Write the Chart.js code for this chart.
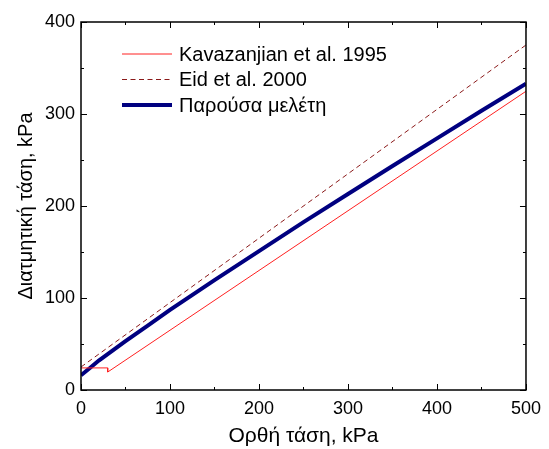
<!DOCTYPE html>
<html>
<head>
<meta charset="utf-8">
<script src="https://cdn.jsdelivr.net/npm/chart.js@4/dist/chart.umd.min.js"></script>
<style>
  html, body { margin: 0; padding: 0; background: #fff; }
  #wrap { width: 549px; height: 449px; }
</style>
</head>
<body>
<div id="wrap"><canvas id="shearChart"></canvas></div>
<script>
// normal stress (kPa) / shear stress (kPa)
const kavazanjianX = [0, 30, 30, 500];
const kavazanjianY = [24, 24, 19.5, 324.7];

const eidX = [0, 500];
const eidY = [25, 375];

const presentX = [0, 10, 20, 30, 50, 75, 100, 150, 200, 250, 300, 350, 400, 450, 500];
const presentY = [16, 24, 32, 39, 53, 70, 87, 119.5, 151, 182.5, 213, 243.5, 273.5, 303.5, 333];

const seriesLabels = ['Kavazanjian et al. 1995', 'Eid et al. 2000', 'Παρούσα μελέτη'];

const xTicks = [0, 100, 200, 300, 400, 500];
const yTicks = [0, 100, 200, 300, 400];

const FONT = '"Liberation Sans", Arial, sans-serif';

function toPoints(xs, ys) {
  return xs.map((x, i) => ({ x, y: ys[i] }));
}

// frame, inward ticks on all four sides, and the legend inside the plot
const framePlugin = {
  id: 'frame',
  afterDatasetsDraw(chart) {
    const { ctx, chartArea: a, scales } = chart;
    const xs = scales.x;
    const ys = scales.y;

    ctx.save();
    ctx.strokeStyle = '#000';
    ctx.lineWidth = 1.5;
    ctx.strokeRect(a.left, a.top, a.right - a.left, a.bottom - a.top);

    ctx.lineWidth = 1;
    ctx.beginPath();
    for (let v = 0; v <= 500; v += 50) {
      const px = Math.round(xs.getPixelForValue(v)) + 0.5;
      const len = v % 100 === 0 ? 6 : 3;
      ctx.moveTo(px, a.bottom);
      ctx.lineTo(px, a.bottom - len);
      ctx.moveTo(px, a.top);
      ctx.lineTo(px, a.top + len);
    }
    for (let v = 0; v <= 400; v += 50) {
      const py = Math.round(ys.getPixelForValue(v)) + 0.5;
      const len = v % 100 === 0 ? 6 : 3;
      ctx.moveTo(a.left, py);
      ctx.lineTo(a.left + len, py);
      ctx.moveTo(a.right, py);
      ctx.lineTo(a.right - len, py);
    }
    ctx.stroke();

    // legend
    const rows = [54, 79.5, 105];
    ctx.font = '20px ' + FONT;
    ctx.textBaseline = 'middle';
    ctx.fillStyle = '#000';
    chart.data.datasets.forEach((ds, i) => {
      ctx.beginPath();
      ctx.strokeStyle = ds.borderColor;
      ctx.lineWidth = ds.borderWidth;
      ctx.setLineDash(ds.borderDash || []);
      ctx.moveTo(122, rows[i]);
      ctx.lineTo(172, rows[i]);
      ctx.stroke();
      ctx.setLineDash([]);
      ctx.fillText(ds.label, 179, rows[i] + 1);
    });
    ctx.restore();
  }
};

const lineStyle = {
  showLine: true,
  pointRadius: 0,
  pointHoverRadius: 0,
  fill: false,
  tension: 0
};

new Chart(document.getElementById('shearChart'), {
  type: 'scatter',
  data: {
    datasets: [
      {
        ...lineStyle,
        label: seriesLabels[0],
        data: toPoints(kavazanjianX, kavazanjianY),
        borderColor: '#ff2020',
        borderWidth: 1
      },
      {
        ...lineStyle,
        label: seriesLabels[1],
        data: toPoints(eidX, eidY),
        borderColor: '#8b1a1a',
        borderWidth: 1,
        borderDash: [5, 3.5]
      },
      {
        ...lineStyle,
        label: seriesLabels[2],
        data: toPoints(presentX, presentY),
        borderColor: '#000080',
        borderWidth: 4
      }
    ]
  },
  options: {
    responsive: true,
    maintainAspectRatio: false,
    animation: false,
    layout: {
      padding: { top: 22, right: 18, left: 0, bottom: 0 }
    },
    plugins: {
      legend: { display: false },
      tooltip: { enabled: false }
    },
    scales: {
      x: {
        type: 'linear',
        min: 0,
        max: 500,
        afterFit: scale => { scale.height = 59; },
        afterBuildTicks: scale => { scale.ticks = xTicks.map(value => ({ value })); },
        grid: { display: false, drawTicks: false },
        border: { display: false },
        ticks: {
          color: '#000',
          padding: 8,
          maxRotation: 0,
          font: { family: FONT, size: 18 }
        },
        title: {
          display: true,
          text: 'Ορθή τάση, kPa',
          color: '#000',
          padding: { top: 0, bottom: 0 },
          font: { family: FONT, size: 21 }
        }
      },
      y: {
        type: 'linear',
        min: 0,
        max: 400,
        afterFit: scale => { scale.width = 81; },
        afterBuildTicks: scale => { scale.ticks = yTicks.map(value => ({ value })); },
        grid: { display: false, drawTicks: false },
        border: { display: false },
        ticks: {
          color: '#000',
          padding: 6,
          font: { family: FONT, size: 18 }
        },
        title: {
          display: true,
          text: 'Διατμητική τάση, kPa',
          color: '#000',
          padding: { top: 14, bottom: 0 },
          font: { family: FONT, size: 20 }
        }
      }
    }
  },
  plugins: [framePlugin]
});
</script>
</body>
</html>
